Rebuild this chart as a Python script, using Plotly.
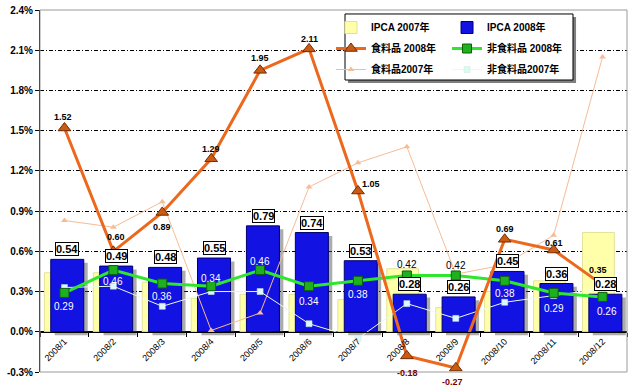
import plotly.graph_objects as go

# ---------------- data ----------------
months = ["2008/1", "2008/2", "2008/3", "2008/4", "2008/5", "2008/6",
          "2008/7", "2008/8", "2008/9", "2008/10", "2008/11", "2008/12"]
ipca_2007 = [0.44, 0.44, 0.37, 0.25, 0.28, 0.28, 0.24, 0.47, 0.18, 0.30, 0.38, 0.74]
ipca_2008 = [0.54, 0.49, 0.48, 0.55, 0.79, 0.74, 0.53, 0.28, 0.26, 0.45, 0.36, 0.28]
food_2008 = [1.52, 0.60, 0.89, 1.29, 1.95, 2.11, 1.05, -0.18, -0.27, 0.69, 0.61, 0.35]
nonfood_2008 = [0.29, 0.46, 0.36, 0.34, 0.46, 0.34, 0.38, 0.42, 0.42, 0.38, 0.29, 0.26]
food_2007 = [0.83, 0.78, 0.97, 0.01, 0.14, 1.08, 1.26, 1.38, 0.43, 0.50, 0.72, 2.05]
nonfood_2007 = [0.33, 0.34, 0.19, 0.30, 0.30, 0.06, -0.05, 0.21, 0.10, 0.22, 0.27, 0.32]
y_ticks = [-0.3, 0.0, 0.3, 0.6, 0.9, 1.2, 1.5, 1.8, 2.1, 2.4]
y_tick_labels = ["-0.3%", "0.0%", "0.3%", "0.6%", "0.9%", "1.2%", "1.5%", "1.8%", "2.1%", "2.4%"]
names = ["IPCA 2007年", "IPCA 2008年", "食料品 2008年", "非食料品 2008年", "食料品2007年", "非食料品2007年"]

# ---------------- label placement (style, px) ----------------
food_lbl_shift = [(-1, 11), (3, 14), (0, -15), (0, 10), (0, 12), (0, 10),
                  (13, 7), (1, -17), (-3, -14), (0, 10), (0, 7), (-5, 15)]
nonfood_lbl_shift = [(0, -14), (0, -11), (0, -13), (0, 8), (0, 9), (0, -15),
                     (0, -14), (0, 11), (0, 10), (0, -13), (0, -16), (4, -15)]
nonfood_lbl_color = ["white"] * 7 + ["black", "black"] + ["white"] * 3

FONT = "Liberation Sans, Arial, Noto Sans CJK JP, sans-serif"

fig = go.Figure()

# 2007 IPCA bars (behind, shifted left)
fig.add_trace(go.Bar(
    x=months, y=ipca_2007, name=names[0], offset=-0.41, width=0.65,
    marker=dict(color="#FFFFAA", line=dict(color="#E2E29A", width=1)),
    legend="legend", legendrank=1, legendgroup="a",
))
# shadow of 2008 bars
fig.add_trace(go.Bar(
    x=months, y=ipca_2008, base=-0.025, offset=-0.20, width=0.675,
    marker=dict(color="rgba(70,70,70,0.45)", line=dict(width=0)),
    showlegend=False, hoverinfo="skip",
))
# 2008 IPCA bars
fig.add_trace(go.Bar(
    x=months, y=ipca_2008, name=names[1], offset=-0.28, width=0.675,
    marker=dict(color="#1212E2", line=dict(color="#00006E", width=1)),
    legend="legend2", legendrank=1, legendgroup="b",
))
# food 2007
fig.add_trace(go.Scatter(
    x=months, y=food_2007, name=names[4], mode="lines+markers",
    line=dict(color="#F6BC96", width=1),
    marker=dict(symbol="triangle-up", size=6, color="#F6BC96"),
    legend="legend", legendrank=3, legendgroup="e",
))
# non-food 2007
fig.add_trace(go.Scatter(
    x=months, y=nonfood_2007, name=names[5], mode="lines+markers",
    line=dict(color="#EAFBEA", width=1),
    marker=dict(symbol="square", size=6, color="#DDF6FF", line=dict(color="#C8F0C8", width=0.5)),
    legend="legend2", legendrank=3, legendgroup="f",
))
# non-food 2008
fig.add_trace(go.Scatter(
    x=months, y=nonfood_2008, name=names[3], mode="lines+markers",
    line=dict(color="#2EE62E", width=3),
    marker=dict(symbol="square", size=9, color="#1FB01F", line=dict(color="#0B5E0B", width=1)),
    legend="legend2", legendrank=2, legendgroup="d",
))
# food 2008
fig.add_trace(go.Scatter(
    x=months, y=food_2008, name=names[2], mode="lines+markers",
    line=dict(color="#EC681C", width=3),
    marker=dict(symbol="triangle-up", size=11, color="#CC5A12", line=dict(color="#6E2E05", width=1)),
    legend="legend", legendrank=2, legendgroup="c",
))

annotations = []
# boxed IPCA 2008 labels
for m, v in zip(months, ipca_2008):
    annotations.append(dict(
        x=m, y=v, xref="x", yref="y", text=f"{v:.2f}", showarrow=False,
        xanchor="center", yanchor="bottom", xshift=3, yshift=3,
        font=dict(family=FONT, size=11, color="black", weight="bold"),
        bgcolor="white", bordercolor="black", borderwidth=1, borderpad=0,
    ))
# food 2008 labels
for (m, v), (dx, dy) in zip(zip(months, food_2008), food_lbl_shift):
    annotations.append(dict(
        x=m, y=v, xref="x", yref="y", text=f"{v:.2f}", showarrow=False,
        xanchor="center", yanchor="middle", xshift=dx, yshift=dy,
        font=dict(family=FONT, size=9, color="#7A0000" if v < 0 else "black", weight="bold"),
    ))
# non-food 2008 labels
for (m, v), (dx, dy), c in zip(zip(months, nonfood_2008), nonfood_lbl_shift, nonfood_lbl_color):
    annotations.append(dict(
        x=m, y=v, xref="x", yref="y", text=f"{v:.2f}", showarrow=False,
        xanchor="center", yanchor="middle", xshift=dx, yshift=dy,
        font=dict(family=FONT, size=10, color=c),
    ))

shapes = [
    # plot frame
    dict(type="rect", xref="paper", yref="paper", x0=0, x1=1, y0=0, y1=1,
         line=dict(color="#9A9A9A", width=1), layer="above"),
    # legend shadow + box
    dict(type="rect", xref="paper", yref="paper", x0=0.5247, x1=0.9132, y0=0.7983, y1=0.9807,
         fillcolor="#7F7F7F", line=dict(width=0), layer="above"),
    dict(type="rect", xref="paper", yref="paper", x0=0.5196, x1=0.9080, y0=0.8066, y1=0.9890,
         fillcolor="white", line=dict(color="black", width=1), layer="above"),
]

leg_common = dict(
    orientation="v", yanchor="top", xanchor="left", bgcolor="rgba(0,0,0,0)",
    borderwidth=0, tracegroupgap=2, traceorder="grouped",
    font=dict(family=FONT, size=10, color="black", weight="bold"),
)

fig.update_layout(
    width=631, height=392,
    margin=dict(l=40, r=4, t=10, b=20),
    paper_bgcolor="white", plot_bgcolor="white",
    barmode="overlay",
    font=dict(family=FONT, size=10, color="black"),
    annotations=annotations,
    shapes=shapes,
    legend=dict(x=0.4957, y=0.9917, **leg_common),
    legend2=dict(x=0.6934, y=0.9917, **leg_common),
    xaxis=dict(
        type="category", range=[-0.5, 11.5], anchor="free",
        position=(0 - y_ticks[0]) / (y_ticks[-1] - y_ticks[0]),
        showline=True, linecolor="black", linewidth=1,
        ticks="outside", ticklen=4, tickcolor="black", tickson="boundaries",
        tickangle=-45, tickfont=dict(family=FONT, size=9, color="black"),
        showgrid=False, zeroline=False,
    ),
    yaxis=dict(
        range=[y_ticks[0], y_ticks[-1]], tickvals=y_ticks, ticktext=y_tick_labels,
        showline=True, linecolor="black", linewidth=1,
        ticks="outside", ticklen=4, tickcolor="black",
        tickfont=dict(family=FONT, size=10, color="black", weight="bold"),
        showgrid=True, gridcolor="black", gridwidth=1, griddash="4px,2px,1px,2px",
        zeroline=True, zerolinecolor="black", zerolinewidth=1,
    ),
)

fig.write_html(
    "out.html",
    config={"displayModeBar": False},
    post_script="document.body.style.margin='0';document.body.style.overflow='hidden';",
)
